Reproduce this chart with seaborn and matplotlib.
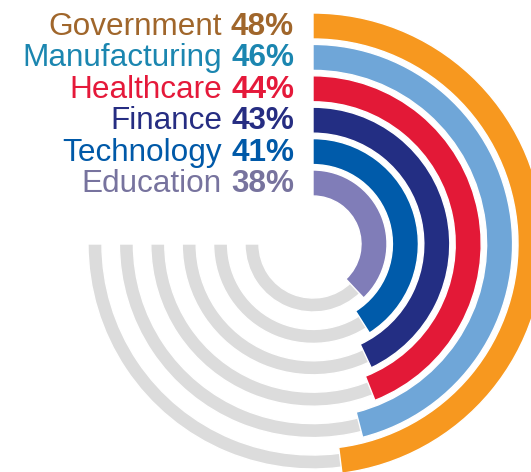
import numpy as np
import pandas as pd
import matplotlib
matplotlib.use("Agg")
import matplotlib.pyplot as plt
import seaborn as sns

# Share of respondents by sector
sectors = ["Government", "Manufacturing", "Healthcare", "Finance", "Technology", "Education"]
shares = [48, 46, 44, 43, 41, 38]
arc_colors = ["#F7981F", "#6FA6D8", "#E31937", "#232E83", "#005BAA", "#807DB8"]
label_colors = ["#A0662B", "#1B86B0", "#E5193A", "#262D82", "#0059A8", "#77739E"]
track_color = "#DCDCDC"

sns.set_theme(style="white")
plt.rcParams["font.family"] = ["Liberation Sans", "DejaVu Sans"]

W, H = 531, 472
fig = plt.figure(figsize=(W / 100, H / 100), dpi=100)
fig.patch.set_facecolor("white")

# polar axes centred on the ring centre, radial units in pixels
cx, cy, S = 313, 228, 240
ax = fig.add_axes([(cx - S) / W, (cy - S) / H, 2 * S / W, 2 * S / H], projection="polar")
ax.set_theta_zero_location("N")
ax.set_theta_direction(-1)

ring_pitch = 31.4
radii = 218 - ring_pitch * np.arange(len(sectors))
angles = np.deg2rad(np.array(shares) * 3.6)  # 100% = full circle

df = pd.DataFrame({"sector": sectors, "radius": radii, "angle": angles,
                   "track": np.full(len(sectors), 1.5 * np.pi)})

# grey background tracks (three quarters of a turn)
sns.barplot(data=df, x="track", y="radius", orient="h", native_scale=True,
            width=14 / ring_pitch, color=track_color, saturation=1, ax=ax, zorder=1)
# coloured sector arcs
sns.barplot(data=df, x="angle", y="radius", hue="sector", palette=arc_colors,
            orient="h", native_scale=True, width=26 / ring_pitch, saturation=1,
            legend=False, dodge=False, ax=ax, zorder=2)

ax.set_ylim(0, S)
ax.axis("off")

# labels: sector name (regular) followed by bold percentage
fs = 22.7
fig.canvas.draw()
renderer = fig.canvas.get_renderer()
x_right = 294
for i, (name, val, col) in enumerate(zip(sectors, shares, label_colors)):
    base = 35 + ring_pitch * i
    y = (H - base) / H
    t = fig.text(x_right / W, y, f"{val}%", ha="right", va="baseline",
                 fontsize=fs, fontweight="bold", color=col)
    bb = t.get_window_extent(renderer)
    fig.text((bb.x0 - 9) / W, y, name, ha="right", va="baseline",
             fontsize=fs, color=col)

fig.savefig("out.png", dpi=100, facecolor="white")
